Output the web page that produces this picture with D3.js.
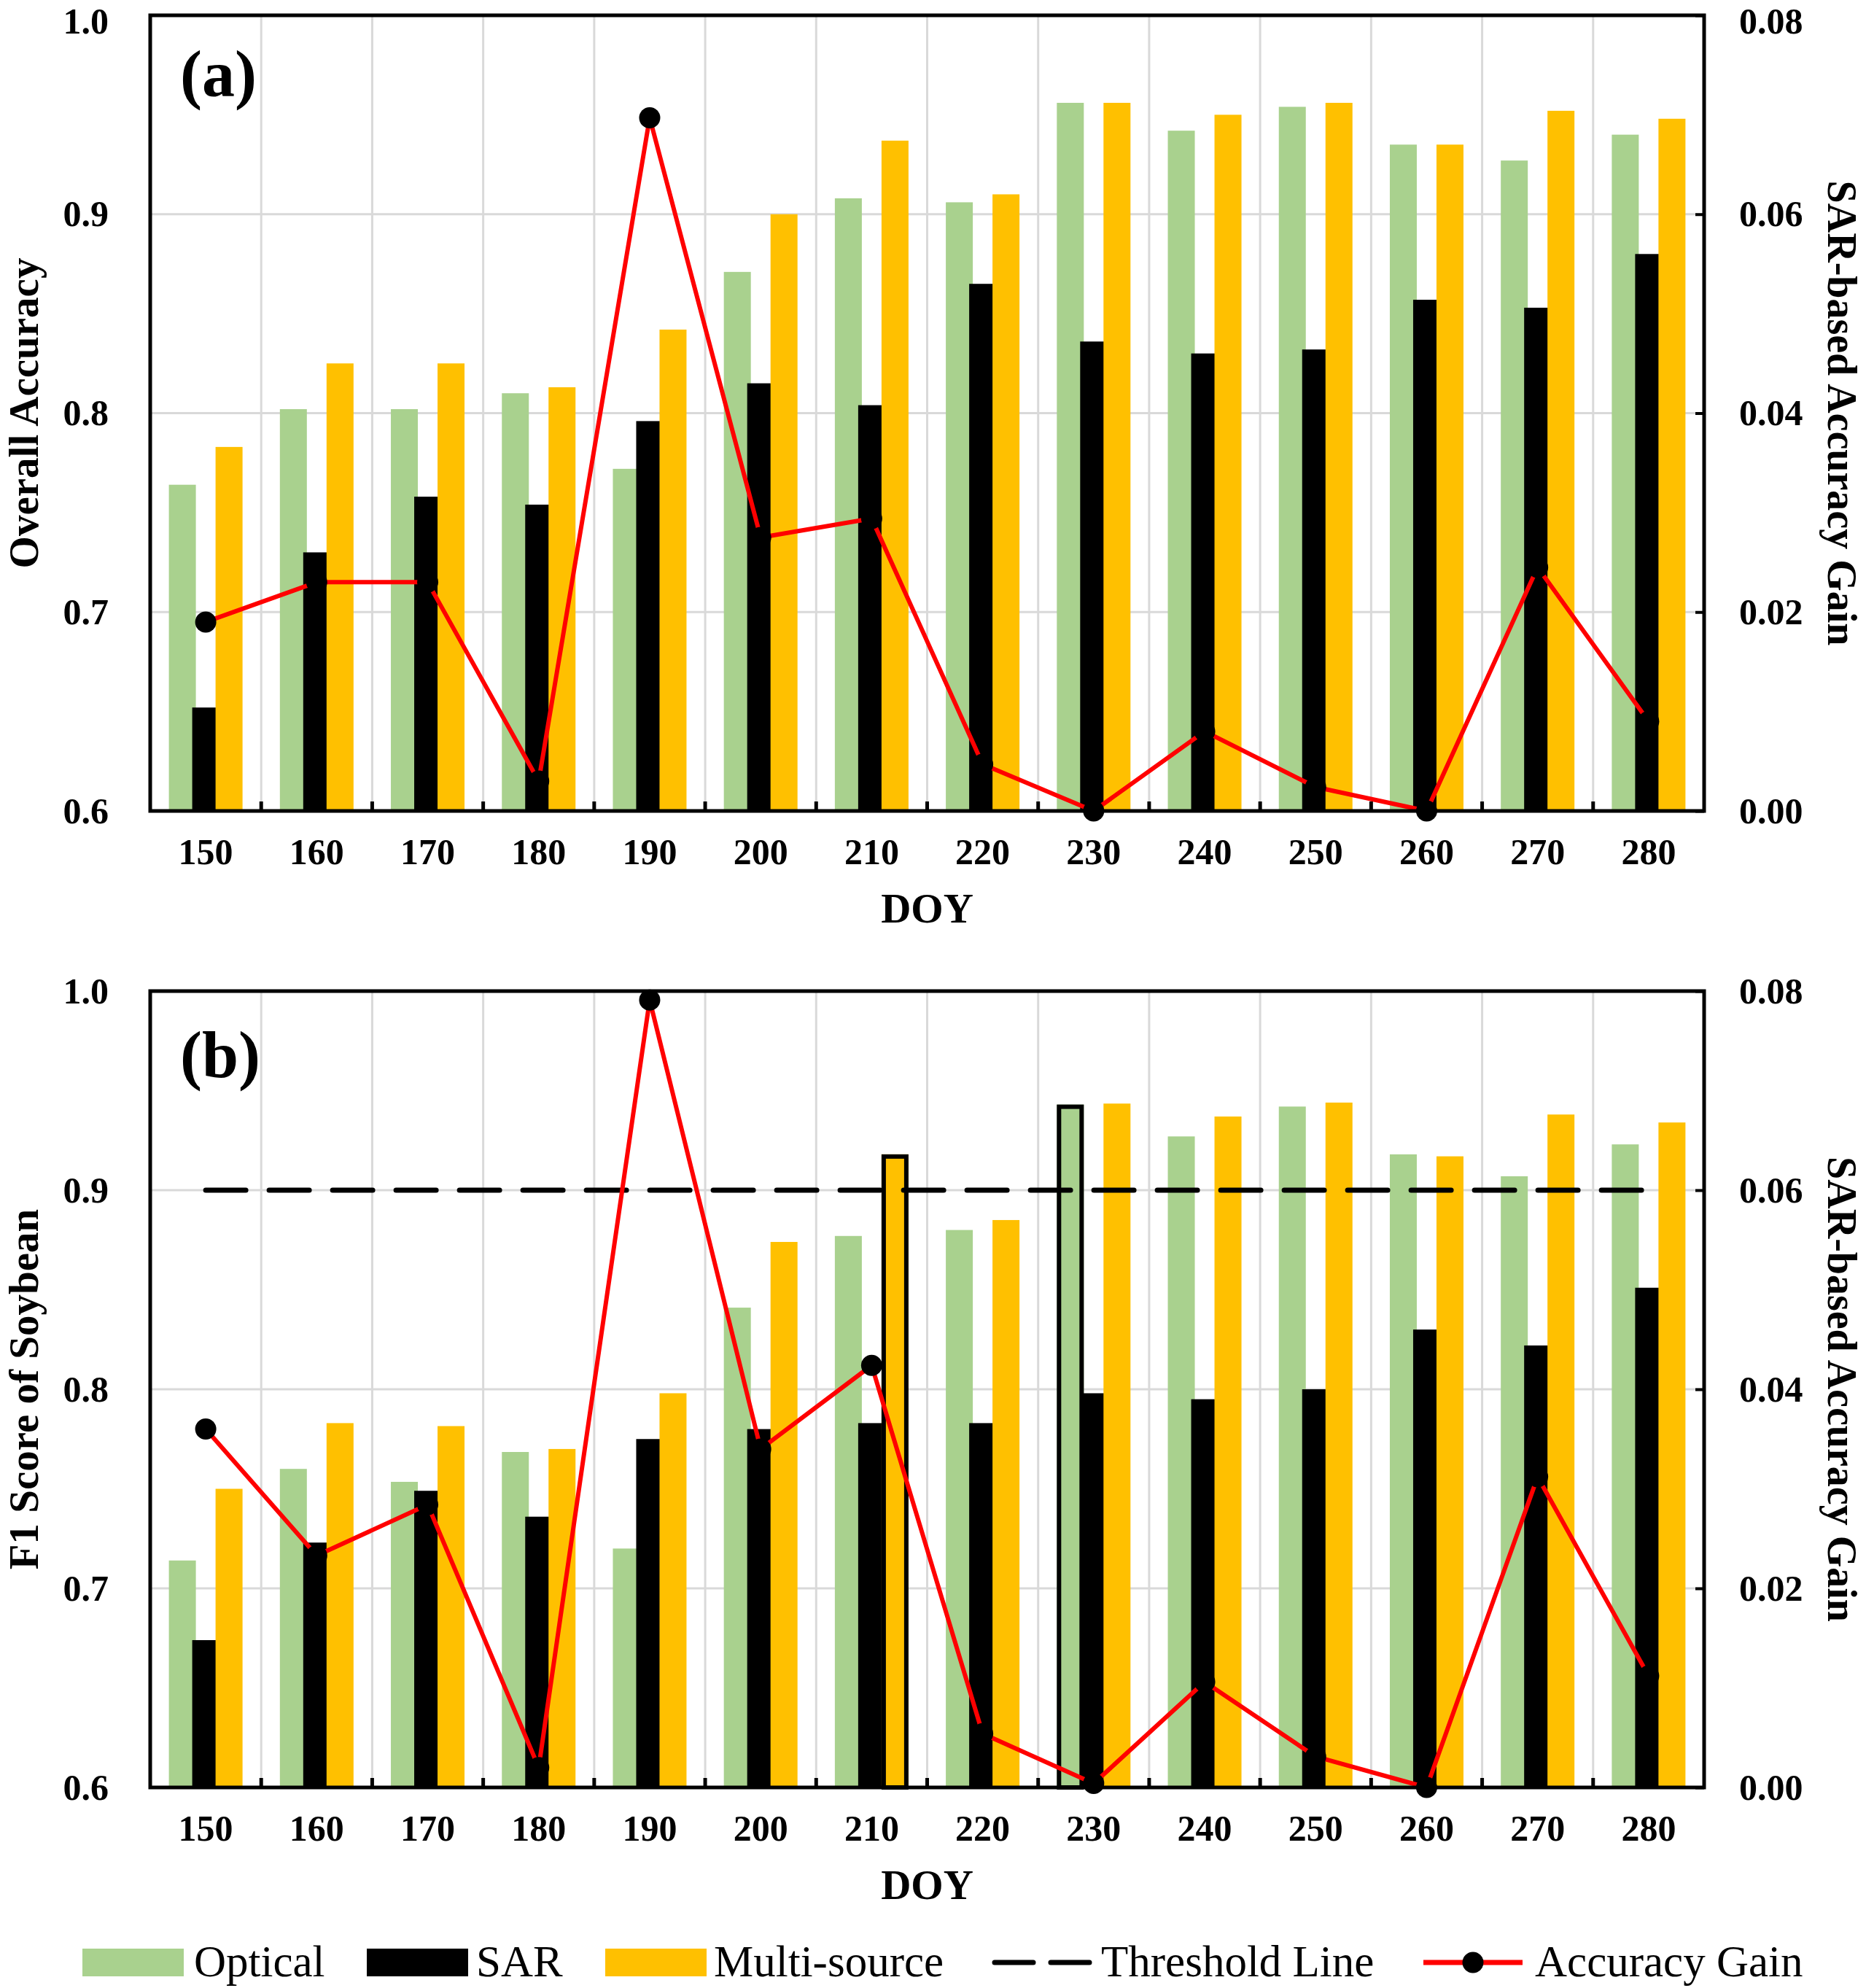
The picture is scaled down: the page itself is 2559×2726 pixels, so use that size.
<!DOCTYPE html>
<html>
<head>
<meta charset="utf-8">
<script src="https://cdn.jsdelivr.net/npm/d3@7"></script>
<style>
  body { margin: 0; background: #fff; }
  svg { display: block; font-family: "Liberation Serif", "Times New Roman", serif; }
</style>
</head>
<body>
<svg id="chart_svg" width="2559" height="2726"></svg>
<script>
// ---- data ----
const doy = [150, 160, 170, 180, 190, 200, 210, 220, 230, 240, 250, 260, 270, 280];

// (a) overall accuracy
const opticalOA = [0.764, 0.802, 0.802, 0.810, 0.772, 0.871, 0.908, 0.906, 0.956, 0.942, 0.954, 0.935, 0.927, 0.940];
const sarOA     = [0.652, 0.730, 0.758, 0.754, 0.796, 0.815, 0.804, 0.865, 0.836, 0.830, 0.832, 0.857, 0.853, 0.880];
const multiOA   = [0.783, 0.825, 0.825, 0.813, 0.842, 0.900, 0.937, 0.910, 0.956, 0.950, 0.956, 0.935, 0.952, 0.948];
const gainOA    = [0.019, 0.023, 0.023, 0.003, 0.0697, 0.0275, 0.0294, 0.0047, 0.000, 0.0080, 0.0024, 0.000, 0.0245, 0.0090];

// (b) F1 score of soybean
const opticalF1 = [0.714, 0.760, 0.7535, 0.7685, 0.720, 0.841, 0.877, 0.880, 0.943, 0.927, 0.942, 0.918, 0.907, 0.923];
const sarF1     = [0.674, 0.723, 0.749, 0.736, 0.775, 0.780, 0.783, 0.783, 0.798, 0.795, 0.800, 0.830, 0.822, 0.851];
const multiF1   = [0.750, 0.783, 0.7815, 0.770, 0.798, 0.874, 0.918, 0.885, 0.9435, 0.937, 0.944, 0.917, 0.938, 0.934];
const gainF1    = [0.036, 0.0233, 0.0284, 0.002, 0.0791, 0.034, 0.0424, 0.0054, 0.0004, 0.0106, 0.0031, 0.000, 0.0312, 0.0112];

const seriesNames = ["Optical", "SAR", "Multi-source"];
const leftTicks = [0.6, 0.7, 0.8, 0.9, 1.0];
const rightTicks = [0.00, 0.02, 0.04, 0.06, 0.08];
const thresholdF1 = 0.9;
// bars outlined in panel (b)
const highlightDoy = [210, 230];
const highlightSeries = ["Multi-source", "Optical"];

// ---- styles ----
const colors = { "Optical": "#a9d18e", "SAR": "#000000", "Multi-source": "#ffc000" };
const gainColor = "#ff0000";
const gridColor = "#d9d9d9";

const svg = d3.select("#chart_svg");

const plotLeft = 206, plotRight = 2337;
const panels = [
  { top: 21, bottom: 1112, label: "(a)", labelY: 132, yTitle: "Overall Accuracy",
    values: [opticalOA, sarOA, multiOA], gain: gainOA, threshold: null, highlight: false },
  { top: 1359, bottom: 2451, label: "(b)", labelY: 1477, yTitle: "F1 Score of Soybean",
    values: [opticalF1, sarF1, multiF1], gain: gainF1, threshold: thresholdF1, highlight: true }
];

const x0 = d3.scaleBand().domain(doy).range([plotLeft, plotRight]);
const barW = 37;
const xOffset = d3.scalePoint().domain(seriesNames).range([-32, 32]);
const cx = (d) => x0(d) + x0.bandwidth() / 2;

panels.forEach((p) => {
  const g = svg.append("g");

  const yLeft = d3.scaleLinear().domain([0.6, 1.0]).range([p.bottom, p.top]);
  const yRight = d3.scaleLinear().domain([0, 0.08]).range([p.bottom, p.top]);

  // gridlines
  g.append("g").selectAll("line.h").data(leftTicks.filter((t) => t > 0.6 && t < 1.0))
    .enter().append("line")
    .attr("x1", plotLeft).attr("x2", plotRight)
    .attr("y1", (d) => yLeft(d)).attr("y2", (d) => yLeft(d))
    .attr("stroke", gridColor).attr("stroke-width", 3);

  g.append("g").selectAll("line.v").data(doy.slice(1))
    .enter().append("line")
    .attr("x1", (d) => x0(d)).attr("x2", (d) => x0(d))
    .attr("y1", p.top).attr("y2", p.bottom)
    .attr("stroke", gridColor).attr("stroke-width", 3);

  // bars
  const rows = [];
  seriesNames.forEach((s, si) => {
    doy.forEach((d, i) => rows.push({ doy: d, series: s, value: p.values[si][i] }));
  });

  g.append("g").selectAll("rect").data(rows)
    .enter().append("rect")
    .attr("x", (d) => cx(d.doy) + xOffset(d.series) - barW / 2)
    .attr("width", barW)
    .attr("y", (d) => yLeft(d.value))
    .attr("height", (d) => p.bottom - yLeft(d.value))
    .attr("fill", (d) => colors[d.series]);

  // outlined bars
  if (p.highlight) {
    const hl = rows.filter((r) => highlightDoy.some((h, k) => h === r.doy && highlightSeries[k] === r.series));
    g.append("g").selectAll("rect").data(hl)
      .enter().append("rect")
      .attr("x", (d) => cx(d.doy) + xOffset(d.series) - barW / 2 + 3)
      .attr("width", barW - 6)
      .attr("y", (d) => yLeft(d.value) + 3)
      .attr("height", (d) => p.bottom - yLeft(d.value) - 3)
      .attr("fill", "none")
      .attr("stroke", "#000")
      .attr("stroke-width", 6);
  }

  // threshold line
  if (p.threshold !== null) {
    g.append("line")
      .attr("x1", cx(doy[0])).attr("x2", cx(doy[doy.length - 1]))
      .attr("y1", yLeft(p.threshold)).attr("y2", yLeft(p.threshold))
      .attr("stroke", "#000").attr("stroke-width", 7)
      .attr("stroke-linecap", "round")
      .attr("stroke-dasharray", "55,32");
  }

  // accuracy gain line and markers
  const gainLine = d3.line()
    .x((d, i) => cx(doy[i]))
    .y((d) => yRight(d));

  g.append("path")
    .datum(p.gain)
    .attr("fill", "none")
    .attr("stroke", gainColor)
    .attr("stroke-width", 6)
    .attr("stroke-linejoin", "round")
    .attr("d", gainLine);

  g.append("g").selectAll("circle").data(p.gain)
    .enter().append("circle")
    .attr("cx", (d, i) => cx(doy[i]))
    .attr("cy", (d) => yRight(d))
    .attr("r", 14.5)
    .attr("fill", "#000");

  // frame
  g.append("rect")
    .attr("x", plotLeft).attr("y", p.top)
    .attr("width", plotRight - plotLeft).attr("height", p.bottom - p.top)
    .attr("fill", "none").attr("stroke", "#000").attr("stroke-width", 5);

  // bottom inner ticks at category boundaries
  g.append("g").selectAll("line").data(doy.slice(1))
    .enter().append("line")
    .attr("x1", (d) => x0(d)).attr("x2", (d) => x0(d))
    .attr("y1", p.bottom).attr("y2", p.bottom - 13)
    .attr("stroke", "#000").attr("stroke-width", 5);

  // axes
  const xAxis = d3.axisBottom(x0).tickSize(0).tickPadding(0);
  const gx = g.append("g").attr("transform", "translate(0," + p.bottom + ")").call(xAxis);
  gx.select(".domain").remove();
  gx.selectAll("text")
    .attr("y", 73).attr("dy", null)
    .attr("font-size", 50).attr("font-weight", "bold")
    .attr("font-family", "Liberation Serif").attr("fill", "#000");

  // top tick labels of the upper panel sit against the page edge, so nudge them down a little
  const yAxisL = d3.axisLeft(yLeft).tickValues(leftTicks).tickFormat(d3.format(".1f")).tickSize(0).tickPadding(57);
  const gyl = g.append("g").attr("transform", "translate(" + plotLeft + ",0)").call(yAxisL);
  gyl.select(".domain").remove();
  gyl.selectAll("text")
    .attr("font-size", 50).attr("font-weight", "bold")
    .attr("font-family", "Liberation Serif").attr("fill", "#000")
    .attr("dy", (d) => (p.top < 40 && d === 1.0) ? "0.48em" : "0.32em");

  const yAxisR = d3.axisRight(yRight).tickValues(rightTicks).tickFormat(d3.format(".2f")).tickSize(-12).tickPadding(48);
  const gyr = g.append("g").attr("transform", "translate(" + plotRight + ",0)").call(yAxisR);
  gyr.select(".domain").remove();
  gyr.selectAll("line").attr("stroke", "#000").attr("stroke-width", 4);
  gyr.selectAll("text")
    .attr("font-size", 50).attr("font-weight", "bold")
    .attr("font-family", "Liberation Serif").attr("fill", "#000")
    .attr("dy", (d) => (p.top < 40 && d === 0.08) ? "0.48em" : "0.32em");

  // titles
  const midY = (p.top + p.bottom) / 2;
  g.append("text")
    .attr("transform", "translate(52," + midY + ") rotate(-90)")
    .attr("text-anchor", "middle")
    .attr("font-size", 57).attr("font-weight", "bold")
    .text(p.yTitle);

  g.append("text")
    .attr("transform", "translate(2507," + midY + ") rotate(90)")
    .attr("text-anchor", "middle")
    .attr("font-size", 56).attr("font-weight", "bold")
    .text("SAR-based Accuracy Gain");

  g.append("text")
    .attr("x", (plotLeft + plotRight) / 2)
    .attr("y", p.bottom + 153)
    .attr("text-anchor", "middle")
    .attr("font-size", 57).attr("font-weight", "bold")
    .text("DOY");

  g.append("text")
    .attr("x", 247).attr("y", p.labelY)
    .attr("font-size", 90).attr("font-weight", "bold")
    .text(p.label);
});

// ---- legend ----
const legendY = 2691;
const legend = svg.append("g").attr("class", "legend");
const legendItems = [
  { type: "rect", key: "Optical", x: 113, tx: 266 },
  { type: "rect", key: "SAR", x: 503, tx: 653 },
  { type: "rect", key: "Multi-source", x: 830, tx: 979 },
  { type: "dash", key: "Threshold Line", x: 1364, tx: 1510 },
  { type: "gain", key: "Accuracy Gain", x: 1952, tx: 2105 }
];

legendItems.forEach((it) => {
  if (it.type === "rect") {
    legend.append("rect")
      .attr("x", it.x).attr("y", legendY - 19)
      .attr("width", 139).attr("height", 38)
      .attr("fill", colors[it.key]);
  } else if (it.type === "dash") {
    legend.append("line")
      .attr("x1", it.x).attr("x2", it.x + 130)
      .attr("y1", legendY).attr("y2", legendY)
      .attr("stroke", "#000").attr("stroke-width", 7)
      .attr("stroke-linecap", "round")
      .attr("stroke-dasharray", "53,24");
  } else {
    legend.append("line")
      .attr("x1", it.x).attr("x2", it.x + 136)
      .attr("y1", legendY).attr("y2", legendY)
      .attr("stroke", gainColor).attr("stroke-width", 7);
    legend.append("circle")
      .attr("cx", it.x + 68).attr("cy", legendY)
      .attr("r", 14.5).attr("fill", "#000");
  }
  legend.append("text")
    .attr("x", it.tx).attr("y", legendY + 19)
    .attr("font-size", 61)
    .text(it.key);
});
</script>
</body>
</html>
